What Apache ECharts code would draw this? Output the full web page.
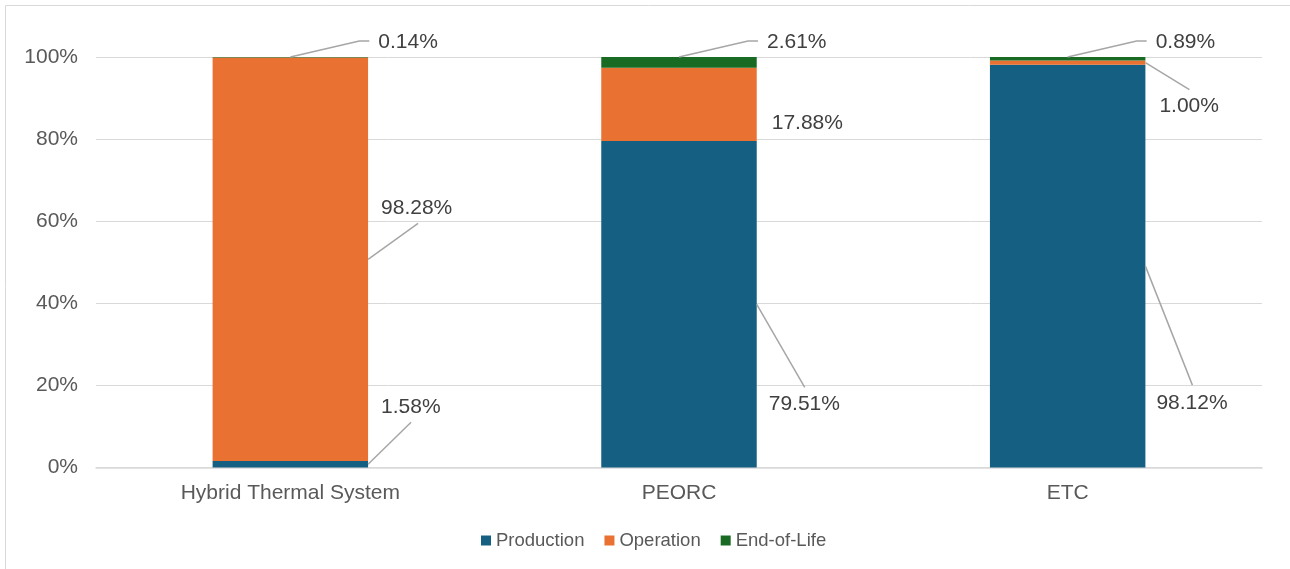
<!DOCTYPE html>
<html>
<head>
<meta charset="utf-8">
<script src="https://cdn.jsdelivr.net/npm/echarts@6/dist/echarts.min.js"></script>
<style>
html,body{margin:0;padding:0;background:#fff;}
#chart{width:1290px;height:569px;}
</style>
</head>
<body>
<div id="chart"></div>
<script>
// ---- data ----
const categories = ['Hybrid Thermal System', 'PEORC', 'ETC'];
const seriesNames = ['Production', 'Operation', 'End-of-Life'];
const production = [1.58, 79.51, 98.12];
const operation = [98.28, 17.88, 1.00];
const endOfLife = [0.14, 2.61, 0.89];
const yTicks = [0, 20, 40, 60, 80, 100];

// ---- style / layout ----
const COLORS = ['#156082', '#E97132', '#196B24'];
const TEXT = '#595959';
const FONT = '"Liberation Sans", Arial, sans-serif';
const BAR_FRAC = 0.4;
// leader line + label offsets (pixels, relative to the segment anchor)
const LAYOUT = [
  [ {line: [[43, -42]], text: [13, -57]}, {line: [[48, 83]], text: [12, 100]}, {line: [[47, 119]], text: [11, 137]} ],
  [ {line: [[50, -36]], text: [13, -51]}, {line: [], text: [15, 19]}, {line: [[44, 27]], text: [14, 44]} ],
  [ {line: [[69, -16], [79, -16]], text: [88, -15]}, {line: [[69, -16], [79, -16]], text: [88, -15]}, {line: [[69, -16], [79, -16]], text: [88, -15]} ]
];

const seriesValues = [production, operation, endOfLife];

// annotation data: [catIndex, low, high, value, seriesIndex]
const annData = [];
categories.forEach((c, i) => {
  let base = 0;
  seriesValues.forEach((arr, s) => {
    annData.push([i, base, base + arr[i], arr[i], s]);
    base += arr[i];
  });
});

const chart = echarts.init(document.getElementById('chart'));

const barSeries = seriesNames.map((name, s) => ({
  name: name,
  type: 'bar',
  stack: 'total',
  barWidth: (BAR_FRAC * 100) + '%',
  itemStyle: {color: COLORS[s]},
  emphasis: {disabled: true},
  data: seriesValues[s]
}));

const annSeries = {
  type: 'custom',
  name: 'labels',
  silent: true,
  z: 5,
  encode: {x: 0, y: [1, 2]},
  data: annData,
  renderItem: function (params, api) {
    const cat = api.value(0), lo = api.value(1), hi = api.value(2), val = api.value(3), s = api.value(4);
    const top = api.coord([cat, Math.min(hi, 100)]);
    const bot = api.coord([cat, lo]);
    const half = api.size([1, 0])[0] * BAR_FRAC / 2;
    const ay = s === 2 ? top[1] : (top[1] + bot[1]) / 2;
    const ax = s === 2 ? top[0] : top[0] + half;
    const cfg = LAYOUT[s][cat];
    const children = [];
    if (cfg.line.length) {
      const pts = [[ax, ay]].concat(cfg.line.map(p => [ax + p[0], ay + p[1]]));
      children.push({
        type: 'polyline',
        shape: {points: pts},
        style: {stroke: '#a6a6a6', lineWidth: 1.5, fill: null}
      });
    }
    children.push({
      type: 'text',
      x: ax + cfg.text[0],
      y: ay + cfg.text[1],
      style: {
        text: val.toFixed(2) + '%',
        fill: '#404040',
        font: '21px ' + FONT,
        align: 'left',
        verticalAlign: 'middle'
      }
    });
    return {type: 'group', children: children};
  }
};

chart.setOption({
  animation: false,
  textStyle: {fontFamily: FONT},
  graphic: [{
    type: 'rect',
    silent: true,
    shape: {x: 5.5, y: 5.5, width: 1400, height: 1000},
    style: {fill: null, stroke: '#d9d9d9', lineWidth: 1}
  }],
  grid: {left: 96, right: 28, top: 57, bottom: 101.5, containLabel: false},
  legend: {
    data: seriesNames,
    left: 476,
    top: 526,
    icon: 'rect',
    itemWidth: 10,
    itemHeight: 10,
    itemGap: 20,
    textStyle: {color: TEXT, fontSize: 18.5, fontFamily: FONT}
  },
  xAxis: {
    type: 'category',
    data: categories,
    axisLine: {lineStyle: {color: '#d9d9d9', width: 1.5}},
    axisTick: {show: false},
    axisLabel: {color: TEXT, fontSize: 21, fontFamily: FONT, margin: 15}
  },
  yAxis: {
    type: 'value',
    min: yTicks[0],
    max: yTicks[yTicks.length - 1],
    interval: yTicks[1] - yTicks[0],
    axisLine: {show: false},
    axisTick: {show: false},
    splitLine: {lineStyle: {color: '#d9d9d9', width: 1}},
    axisLabel: {color: TEXT, fontSize: 21, fontFamily: FONT, margin: 18, formatter: '{value}%'}
  },
  series: barSeries.concat([annSeries])
});
</script>
</body>
</html>
